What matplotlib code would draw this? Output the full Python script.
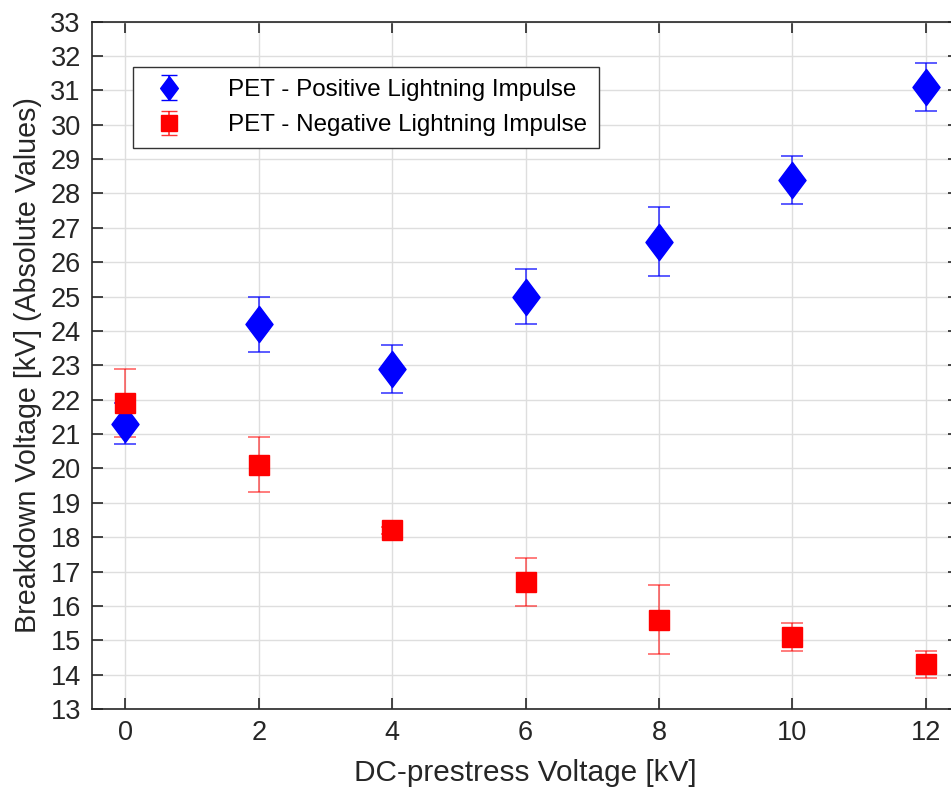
import matplotlib
matplotlib.use("Agg")
import matplotlib.pyplot as plt
from matplotlib.path import Path
import numpy as np

plt.rcParams['font.family'] = ['Liberation Sans', 'DejaVu Sans']

dc_voltage = [0, 2, 4, 6, 8, 10, 12]
pos_mean = [21.3, 24.2, 22.9, 25.0, 26.6, 28.4, 31.1]
pos_err = [0.6, 0.8, 0.7, 0.8, 1.0, 0.7, 0.7]
neg_mean = [21.9, 20.1, 18.2, 16.7, 15.6, 15.1, 14.3]
neg_err = [1.0, 0.8, 0.1, 0.7, 1.0, 0.4, 0.4]

labels = ['PET - Positive Lightning Impulse', 'PET - Negative Lightning Impulse']

diamond = Path([(0, 1), (0.75, 0), (0, -1), (-0.75, 0), (0, 1)],
               [Path.MOVETO, Path.LINETO, Path.LINETO, Path.LINETO, Path.CLOSEPOLY])

W, H = 951, 791
fig = plt.figure(figsize=(W / 100, H / 100), dpi=100)
left, right, top, bottom = 92, 959, 21.5, 709
ax = fig.add_axes([left / W, 1 - bottom / H, (right - left) / W, (bottom - top) / H])

ax.errorbar(dc_voltage, pos_mean, yerr=pos_err, fmt='none', ecolor=(0, 0, 1, 0.75),
            elinewidth=1.2, capsize=8, capthick=1.2, zorder=3)
ax.plot(dc_voltage, pos_mean, linestyle='none', marker=diamond, markersize=26,
        color='blue', markeredgecolor='blue', zorder=4)
ax.errorbar(dc_voltage, neg_mean, yerr=neg_err, fmt='none', ecolor=(1, 0, 0, 0.6),
            elinewidth=1.2, capsize=8, capthick=1.2, zorder=3)
ax.plot(dc_voltage, neg_mean, linestyle='none', marker='s', markersize=15,
        color='red', markeredgecolor='red', zorder=4)

# legend proxies (error bar + marker), not drawn in the plot area
hp = ax.errorbar([np.nan], [np.nan], yerr=[1], marker=diamond, markersize=17, color='blue',
                 linestyle='none', ecolor='blue', capsize=6, elinewidth=1.2)
hn = ax.errorbar([np.nan], [np.nan], yerr=[1], marker='s', markersize=11, color='red',
                 linestyle='none', ecolor=(1, 0, 0, 0.8), capsize=6, elinewidth=1.2)
leg = ax.legend([hp, hn], labels, loc='upper left', bbox_to_anchor=(0.047, 0.934),
                fontsize=17.4, frameon=True, fancybox=False, edgecolor='#333333',
                framealpha=1, borderpad=0.5, handlelength=2.0, handletextpad=1.45,
                borderaxespad=0, labelspacing=0.55)
leg.get_frame().set_linewidth(1.0)

ax.set_xlim(-0.5, 12.5)
ax.set_ylim(13, 33)
ax.set_xticks(dc_voltage)
ax.set_yticks(np.arange(13, 34, 1))
ax.grid(True, color='#dedede', linewidth=1.0)
ax.set_axisbelow(True)
ax.tick_params(direction='in', length=8, width=1.2, top=True, right=True,
               labelsize=19.5, colors='#262626', pad=8)
for s in ax.spines.values():
    s.set_color('#262626')
    s.set_linewidth(1.2)

ax.set_xlabel('DC-prestress Voltage [kV]', fontsize=21.4, color='#262626', labelpad=9)
ax.set_ylabel('Breakdown Voltage [kV] (Absolute Values)', fontsize=20.6, color='#262626', labelpad=6)

fig.savefig('out.png', dpi=100)
